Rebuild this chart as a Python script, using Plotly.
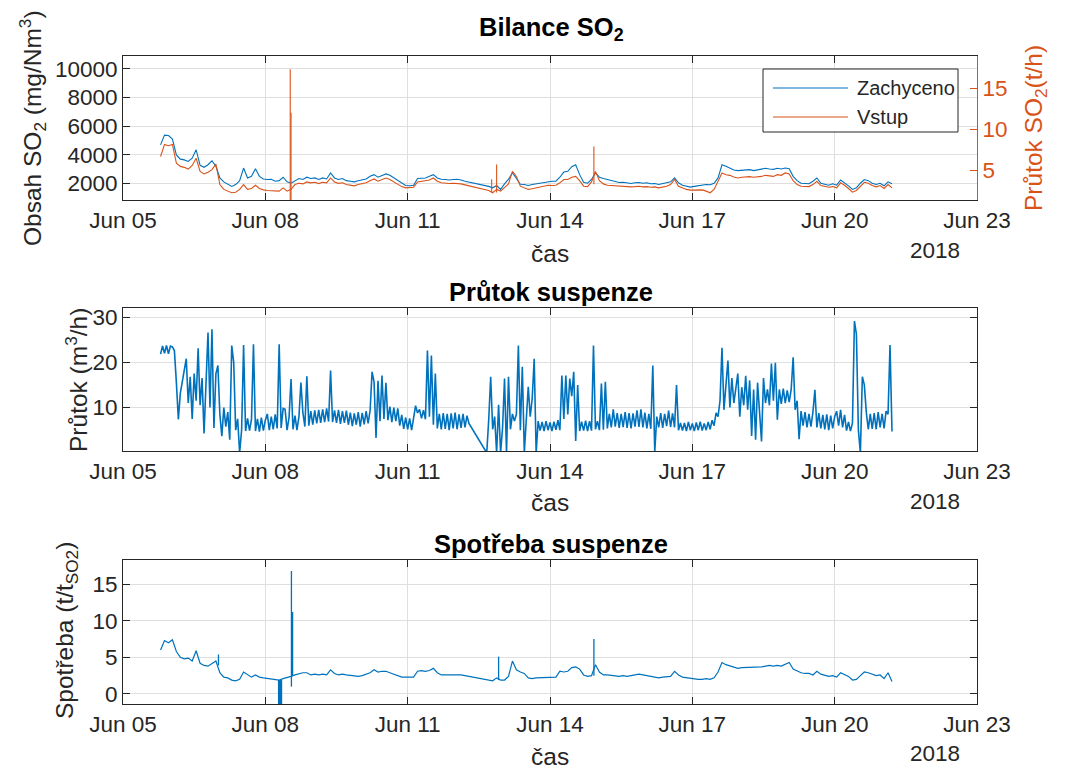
import pandas as pd
import plotly.graph_objects as go

# ---------------------------------------------------------------------------
# Measured series (start 2018-06-05 19:00)
# ---------------------------------------------------------------------------
START = "2018-06-05 19:00"

# SO2 balance, 2-hour samples: captured concentration [mg/Nm3]
zachyceno = [
    4700, 5380, 5350, 5100, 4000, 3700, 3650, 3540, 3770, 4350, 3270, 3130,
    3310, 3590, 3200, 2390, 2115, 1980, 1800, 1930, 2200, 3080, 2390, 2500,
    3030, 2500, 2320, 2280, 2300, 2160, 2200, 2440, 2115, 2020, 2200, 2350,
    2280, 2440, 2350, 2390, 2280, 2390, 2320, 2740, 2390, 2280, 2350, 2200,
    2160, 2115, 2200, 2280, 2320, 2500, 2620, 2440, 2550, 2670, 2575, 2390,
    2200, 2020, 1860, 1840, 1885, 2350, 2390, 2390, 2500, 2620, 2390, 2300,
    2280, 2250, 2280, 2300, 2250, 2160, None, None, None, None, None, 1800,
    1700, 1860, 1590, 1980, 2300, 2750, 2350, 1950, 1930, 1860, 1930, 1980,
    2020, 2090, 2160, 2160, 2160, 2440, 2800, 2850, 3170, 3310, 2620, 2090,
    2020, 2280, 2740, 2440, 2350, 2280, 2200, 2160, 2070, 2090, 2050, 2000,
    2050, 2070, 2020, 2050, 1980, 2000, 1930, 1980, 2050, 2115, 2390, 2050,
    1885, 1800, 1750, 1800, 1840, 1885, 1930, 1910, 2020, 2390, 3310, 3200,
    3080, 2940, 2900, 2920, 2940, 2970, 2900, 2940, 2990, 3060, 3010, 2990,
    3060, 3010, 3080, 3030, 2500, 2200, 2020, 1980, 1980, 2160, 2390, 2020,
    1930, 1885, 1980, 1885, 2250, 2070, 1840, 1590, 1700, 2020, 2280, 2200,
    2020, 1930, 2020, 1840, 2115, 1980,
]

# SO2 balance, 2-hour samples: SO2 input flow [t/h]
vstup = [
    6.67, 8.15, 7.99, 8.15, 5.87, 5.47, 5.35, 5.14, 5.59, 6.46, 4.86, 4.55,
    4.77, 5.07, 5.75, 3.26, 2.67, 2.46, 2.26, 2.33, 2.67, 3.26, 2.67, 2.78,
    3.18, 2.78, 2.61, 2.54, 2.54, 2.46, 2.46, 2.86, 2.46, 2.67, 3.26, 3.41,
    3.34, 3.58, 3.47, 3.54, 3.38, 3.54, 3.47, 4.06, 3.58, 3.41, 3.47, 3.26,
    3.18, 3.10, 3.26, 3.38, 3.47, 3.73, 3.94, 3.66, 3.82, 4.06, 3.87, 3.58,
    3.26, 3.01, 2.86, 2.86, 2.94, 3.58, 3.66, 3.66, 3.82, 4.06, 3.66, 3.47,
    3.41, 3.38, 3.41, 3.41, 3.34, 3.22, None, None, None, None, None, 2.54,
    2.26, 2.67, 2.46, 2.94, 3.34, 4.86, 4.25, 3.06, 2.86, 2.67, 2.74, 2.86,
    2.94, 3.06, 3.18, 3.14, 3.18, 3.47, 3.87, 3.87, 4.15, 4.25, 3.73, 3.06,
    3.01, 3.58, 4.86, 3.73, 3.34, 3.18, 3.14, 3.10, 3.01, 3.06, 3.01, 2.98,
    3.01, 3.06, 2.98, 3.01, 2.94, 2.98, 2.86, 2.94, 3.06, 3.26, 3.87, 3.06,
    2.86, 2.67, 2.58, 2.61, 2.67, 2.61, 2.46, 2.26, 2.67, 3.58, 4.67, 4.46,
    4.38, 4.18, 4.06, 4.15, 4.18, 4.22, 4.15, 4.18, 4.25, 4.38, 4.30, 4.25,
    4.46, 4.38, 4.67, 4.55, 3.73, 3.26, 3.06, 3.01, 3.01, 3.26, 3.66, 3.14,
    3.01, 2.94, 3.01, 2.86, 3.47, 3.18, 2.78, 2.33, 2.54, 3.06, 3.54, 3.41,
    3.14, 2.98, 3.14, 2.78, 3.26, 2.86,
]

# short input-flow peaks recorded between samples: time, low, high [t/h]
vstup_spike_time = ["2018-06-08 12:36", "2018-06-08 13:00", "2018-06-12 18:30",
                    "2018-06-12 21:00", "2018-06-14 22:12"]
vstup_spike_low = [1.0, 1.0, 2.3, 2.3, 3.3]
vstup_spike_high = [17.3, 12.0, 3.9, 5.7, 7.9]

# suspension flow, 1-hour samples [m3/h]
prutok_suspenze = [
    21.8, 23.6, 22.0, 23.7, 21.9, 23.6, 23.4, 22.6, 15.5, 7.4, 13.2, 15.6,
    18.2, 20.8, 11.0, 16.8, 7.5, 17.5, 11.5, 23.1, 10.5, 16.5, 4.3, 14.5,
    26.6, 10.0, 27.3, 5.5, 17.5, 19.3, 8.5, 3.7, 10.0, 5.8, 9.0, 2.9,
    23.7, 20.0, 5.0, 7.5, 0.0, 5.0, 23.8, 4.8, 7.6, 4.9, 7.4, 24.0,
    4.8, 7.5, 4.7, 7.8, 4.9, 7.2, 8.6, 5.0, 8.0, 5.2, 8.5, 5.4,
    24.0, 5.5, 9.8, 9.6, 5.0, 7.8, 16.3, 5.2, 8.2, 5.0, 8.0, 15.5,
    8.8, 5.8, 16.9, 6.0, 9.2, 6.2, 9.4, 6.5, 9.5, 6.6, 9.6, 6.8,
    9.8, 6.9, 18.2, 6.8, 9.4, 6.6, 9.5, 6.4, 9.2, 6.6, 9.3, 6.2,
    8.9, 5.9, 8.7, 6.2, 9.0, 5.8, 8.8, 6.3, 9.2, 6.5, 9.4, 17.9,
    15.7, 3.3, 15.9, 7.0, 17.1, 7.5, 15.5, 7.2, 10.2, 6.8, 10.0, 7.0,
    9.8, 6.0, 8.4, 5.3, 7.8, 5.2, 7.6, 5.0, 7.4, 10.4, 8.8, 9.6,
    7.6, 9.4, 7.4, 22.6, 8.0, 21.5, 6.2, 17.5, 5.4, 8.6, 5.2, 8.8,
    5.3, 8.6, 5.0, 8.7, 5.4, 8.9, 5.2, 8.5, 5.5, 8.6, 5.6, 8.2,
    6.5, None, None, None, None, None, None, None, None, 0.0, 7.3, 16.8,
    5.2, 8.0, 0.0, 10.6, 0.0, 5.5, 16.4, 0.0, 16.8, 5.2, 8.6, 7.0,
    8.5, 23.7, 5.0, 19.0, 0.0, 8.5, 14.6, 8.0, 12.0, 20.8, 0.0, 7.0,
    4.9, 6.8, 4.8, 7.0, 5.0, 6.7, 4.8, 6.9, 5.1, 7.2, 5.0, 17.1,
    7.5, 17.1, 8.5, 16.4, 12.5, 17.9, 2.6, 15.0, 4.8, 6.9, 4.9, 7.1,
    4.8, 7.0, 4.9, 23.7, 5.2, 7.0, 5.0, 15.3, 5.1, 15.7, 5.4, 8.6,
    5.6, 9.6, 5.8, 8.8, 5.5, 8.6, 5.7, 9.0, 5.5, 8.8, 5.4, 8.7,
    5.8, 9.4, 5.7, 9.6, 5.6, 8.9, 5.4, 8.6, 5.3, 19.3, 0.2, 8.0,
    5.6, 8.8, 5.5, 8.6, 5.9, 9.3, 5.7, 8.7, 5.6, 15.0, 5.0, 6.6,
    4.9, 6.6, 4.8, 6.8, 5.0, 6.5, 4.8, 6.7, 5.0, 6.9, 4.9, 6.5,
    5.0, 6.8, 5.2, 7.2, 6.0, 8.8, 8.0, 11.5, 23.2, 9.5, 15.5, 20.4,
    10.0, 16.5, 11.0, 15.0, 17.5, 8.0, 14.5, 10.5, 17.0, 9.5, 16.0, 3.7,
    14.0, 2.9, 15.5, 9.0, 2.5, 16.5, 11.0, 14.0, 10.5, 19.7, 11.5, 19.9,
    7.3, 14.0, 10.8, 14.2, 11.0, 13.8, 11.2, 14.0, 21.1, 9.5, 11.5, 3.0,
    9.2, 6.0, 9.0, 5.6, 8.6, 5.8, 9.0, 13.9, 5.6, 8.8, 5.4, 8.4,
    5.2, 8.5, 5.0, 8.2, 5.4, 8.0, 9.2, 6.0, 9.5, 5.6, 8.4, 4.9,
    6.8, 4.8, 6.6, 29.1, 26.2, 5.0, 0.0, 16.8, 15.0, 9.0, 5.2, 8.6,
    5.3, 8.8, 5.2, 9.0, 5.6, 8.6, 5.4, 9.2, 8.5, 23.8, 4.7,
]

# specific suspension consumption, 2-hour samples [t/t SO2]
spotreba = [
    6.0, 7.3, 7.0, 7.4, 5.8, 5.0, 4.8, 4.9, 4.5, 5.9, 4.2, 3.9,
    3.8, 4.2, 4.5, 2.9, 2.3, 2.2, 1.9, 1.8, 2.0, 3.0, 2.6, 2.3,
    2.6, 2.3, 2.2, 2.1, 2.0, 2.0, 1.9, 2.1, 2.2, 2.4, 2.6, 2.8,
    2.9, 2.9, 2.6, 2.7, 2.6, 2.7, 2.6, 3.3, 2.8, 2.6, 2.7, 2.6,
    2.5, 2.4, 2.4, 2.5, 2.7, 2.9, 3.3, 3.0, 3.1, 3.1, 2.9, 2.7,
    2.5, 2.3, 2.3, 2.3, 2.3, 3.1, 3.2, 3.1, 3.2, 3.5, 2.9, 2.6,
    2.6, 2.6, 2.7, 2.6, 2.6, 2.5, None, None, None, None, None, 1.9,
    1.8, 2.2, 1.9, 1.9, 2.4, 4.5, 3.3, 3.0, 2.8, 2.2, 2.1, 2.2,
    2.2, 2.3, 2.2, 2.3, 2.3, 3.1, 3.0, 3.1, 3.6, 3.7, 3.4, 2.6,
    2.4, 2.5, 4.0, 3.0, 2.6, 2.6, 2.5, 2.5, 2.4, 2.5, 2.4, 2.5,
    2.6, 2.7, 2.6, 2.5, 2.3, 2.3, 2.2, 2.3, 2.3, 2.4, 3.1, 2.6,
    2.3, 2.2, 2.2, 2.0, 2.0, 2.0, 2.1, 2.0, 2.2, 3.0, 4.3, 4.0,
    3.8, 3.6, 3.5, 3.6, 3.6, 3.6, 3.7, 3.6, 3.7, 3.8, 3.9, 3.8,
    3.9, 3.8, 4.0, 4.3, 3.4, 3.1, 2.9, 2.8, 2.8, 2.6, 3.1, 2.7,
    2.5, 2.4, 2.5, 2.3, 2.9, 2.7, 2.4, 1.9, 2.0, 2.5, 3.0, 2.9,
    2.7, 2.5, 2.6, 2.1, 2.9, 1.7,
]

# short consumption excursions between samples: time, low, high [t/t SO2]
spotreba_spike_time = ["2018-06-07 00:18", "2018-06-08 06:42", "2018-06-08 07:12",
                       "2018-06-08 07:42", "2018-06-08 08:12", "2018-06-08 13:12",
                       "2018-06-08 13:36", "2018-06-08 13:48", "2018-06-12 22:00",
                       "2018-06-14 22:12"]
spotreba_spike_low = [3.9, -3.0, -3.0, -3.0, -3.0, 1.0, 2.5, 2.5, 1.9, 2.5]
spotreba_spike_high = [5.4, 1.9, 1.9, 1.9, 1.9, 16.8, 11.2, 11.2, 5.1, 7.5]

# axis ticks
date_ticks = ["2018-06-05", "2018-06-08", "2018-06-11", "2018-06-14",
              "2018-06-17", "2018-06-20", "2018-06-23"]
date_labels = ["Jun 05", "Jun 08", "Jun 11", "Jun 14", "Jun 17", "Jun 20", "Jun 23"]
so2_ticks = [2000, 4000, 6000, 8000, 10000]
so2_flow_ticks = [5, 10, 15]
flow_ticks = [10, 20, 30]
consumption_ticks = [0, 5, 10, 15]

# ---------------------------------------------------------------------------
BLUE = "#0072BD"
ORANGE = "#D95319"
AX = "#262626"
GRID = "#DFDFDF"
FONT = "Liberation Sans, Arial, Helvetica, sans-serif"
W, H = 1074, 769

t2h = pd.date_range(START, periods=len(zachyceno), freq="2h")
t2h_in = pd.date_range(START, periods=len(vstup), freq="2h")
t1h = pd.date_range(START, periods=len(prutok_suspenze), freq="1h")
t2h_sp = pd.date_range(START, periods=len(spotreba), freq="2h")


def segments(times, lows, highs):
    xs, ys = [], []
    for t, lo, hi in zip(times, lows, highs):
        xs += [t, t, None]
        ys += [lo, hi, None]
    return xs, ys


def px(x):
    return x / W


def py(y):
    return 1 - y / H


fig = go.Figure()
series_kw = dict(mode="lines", connectgaps=True, showlegend=False, hoverinfo="skip")
spike_kw = dict(mode="lines", connectgaps=False, showlegend=False, hoverinfo="skip")

fig.add_trace(go.Scatter(x=t2h, y=zachyceno, line=dict(color=BLUE, width=1.1),
                         xaxis="x", yaxis="y", **series_kw))
fig.add_trace(go.Scatter(x=t2h_in, y=vstup, line=dict(color=ORANGE, width=1.1),
                         xaxis="x", yaxis="y2", **series_kw))
sx, sy = segments(vstup_spike_time, vstup_spike_low, vstup_spike_high)
fig.add_trace(go.Scatter(x=sx, y=sy, line=dict(color=ORANGE, width=1.1),
                         xaxis="x", yaxis="y2", **spike_kw))

fig.add_trace(go.Scatter(x=t1h, y=prutok_suspenze, line=dict(color=BLUE, width=1.6),
                         xaxis="x2", yaxis="y3", **series_kw))

fig.add_trace(go.Scatter(x=t2h_sp, y=spotreba, line=dict(color=BLUE, width=1.2),
                         xaxis="x3", yaxis="y4", **series_kw))
sx, sy = segments(spotreba_spike_time, spotreba_spike_low, spotreba_spike_high)
fig.add_trace(go.Scatter(x=sx, y=sy, line=dict(color=BLUE, width=1.3),
                         xaxis="x3", yaxis="y4", **spike_kw))

tick_font = dict(family=FONT, size=22.5, color=AX)
x_dom = [px(123), px(977)]


def x_axis(anchor):
    return dict(type="date", range=["2018-06-05", "2018-06-23"], domain=x_dom,
                anchor=anchor, tickvals=date_ticks, ticktext=date_labels,
                ticks="inside", ticklen=7, tickcolor=AX, tickwidth=1,
                showline=True, linecolor=AX, linewidth=1, mirror="ticks",
                showgrid=True, gridcolor=GRID, gridwidth=1, zeroline=False,
                automargin=False, tickfont=tick_font)


def y_axis(anchor, dom, rng, vals, mirror="ticks"):
    return dict(range=rng, domain=dom, anchor=anchor, tickvals=vals,
                tickformat="d", ticks="inside", ticklen=7, tickcolor=AX,
                tickwidth=1, showline=True, linecolor=AX, linewidth=1,
                mirror=mirror, showgrid=True, gridcolor=GRID, gridwidth=1,
                zeroline=False, automargin=False, tickfont=tick_font)


fig.update_layout(
    width=W, height=H, autosize=False,
    margin=dict(l=0, r=0, t=0, b=0, pad=0, autoexpand=False),
    paper_bgcolor="white", plot_bgcolor="white",
    showlegend=False,
    xaxis=x_axis("y"),
    xaxis2=x_axis("y3"),
    xaxis3=x_axis("y4"),
    yaxis=y_axis("x", [py(200), py(56)], [850, 10900], so2_ticks, mirror=False),
    yaxis2=dict(range=[1.38, 18.9], overlaying="y", side="right", anchor="x",
                tickvals=so2_flow_ticks, ticks="inside", ticklen=7,
                tickcolor=ORANGE, tickwidth=1, showline=True,
                linecolor=ORANGE, linewidth=1, showgrid=False, zeroline=False,
                automargin=False,
                tickfont=dict(family=FONT, size=22.5, color=ORANGE)),
    yaxis3=y_axis("x2", [py(451), py(308)], [0.4, 32.0], flow_ticks),
    yaxis4=y_axis("x3", [py(704), py(560)], [-1.37, 18.3], consumption_ticks),
)

label_font = dict(family=FONT, size=24.5, color=AX)
title_font = dict(family=FONT, size=25.5, color="black")
annotations = [
    # panel titles
    dict(x=px(551), y=py(29), text="<b>Bilance SO<sub>2</sub></b>", font=title_font),
    dict(x=px(551), y=py(292), text="<b>Průtok suspenze</b>", font=title_font),
    dict(x=px(551), y=py(544), text="<b>Spotřeba suspenze</b>", font=title_font),
    # y-axis titles
    dict(x=px(32), y=py(128), text="Obsah SO<sub>2</sub> (mg/Nm<sup>3</sup>)",
         textangle=-90, font=label_font),
    dict(x=px(1035), y=py(128), text="Průtok SO<sub>2</sub>(t/h)", textangle=-90,
         font=dict(family=FONT, size=24.5, color=ORANGE)),
    dict(x=px(76), y=py(380), text="Průtok (m<sup>3</sup>/h)", textangle=-90,
         font=label_font),
    dict(x=px(66), y=py(631), text="Spotřeba (t/t<sub>SO2</sub>)", textangle=-90,
         font=label_font),
]
# x-axis titles and year label under each panel
for y_cas, y_year in [(253, 250), (502, 501), (756, 753)]:
    annotations.append(dict(x=px(550), y=py(y_cas), text="čas", font=label_font))
    annotations.append(dict(x=px(935), y=py(y_year), text="2018", font=tick_font))

# legend of the SO2 panel
leg_font = dict(family=FONT, size=20, color=AX)
annotations.append(dict(x=px(855), y=py(88), text="Zachyceno", xanchor="left",
                        font=leg_font))
annotations.append(dict(x=px(855), y=py(117), text="Vstup", xanchor="left",
                        font=leg_font))
for a in annotations:
    a.setdefault("xref", "paper")
    a.setdefault("yref", "paper")
    a.setdefault("showarrow", False)
    a.setdefault("xanchor", "center")
    a.setdefault("yanchor", "middle")
fig.update_layout(annotations=annotations)

shapes = [
    dict(type="rect", x0=px(763), x1=px(958), y0=py(132), y1=py(69),
         fillcolor="white", line=dict(color=AX, width=1)),
    dict(type="line", x0=px(773), x1=px(848), y0=py(88), y1=py(88),
         line=dict(color=BLUE, width=1.2)),
    dict(type="line", x0=px(773), x1=px(848), y0=py(117), y1=py(117),
         line=dict(color=ORANGE, width=1.2)),
]
for s in shapes:
    s["xref"] = "paper"
    s["yref"] = "paper"
    s["layer"] = "above"
fig.update_layout(shapes=shapes)

fig.write_html("out.html")
